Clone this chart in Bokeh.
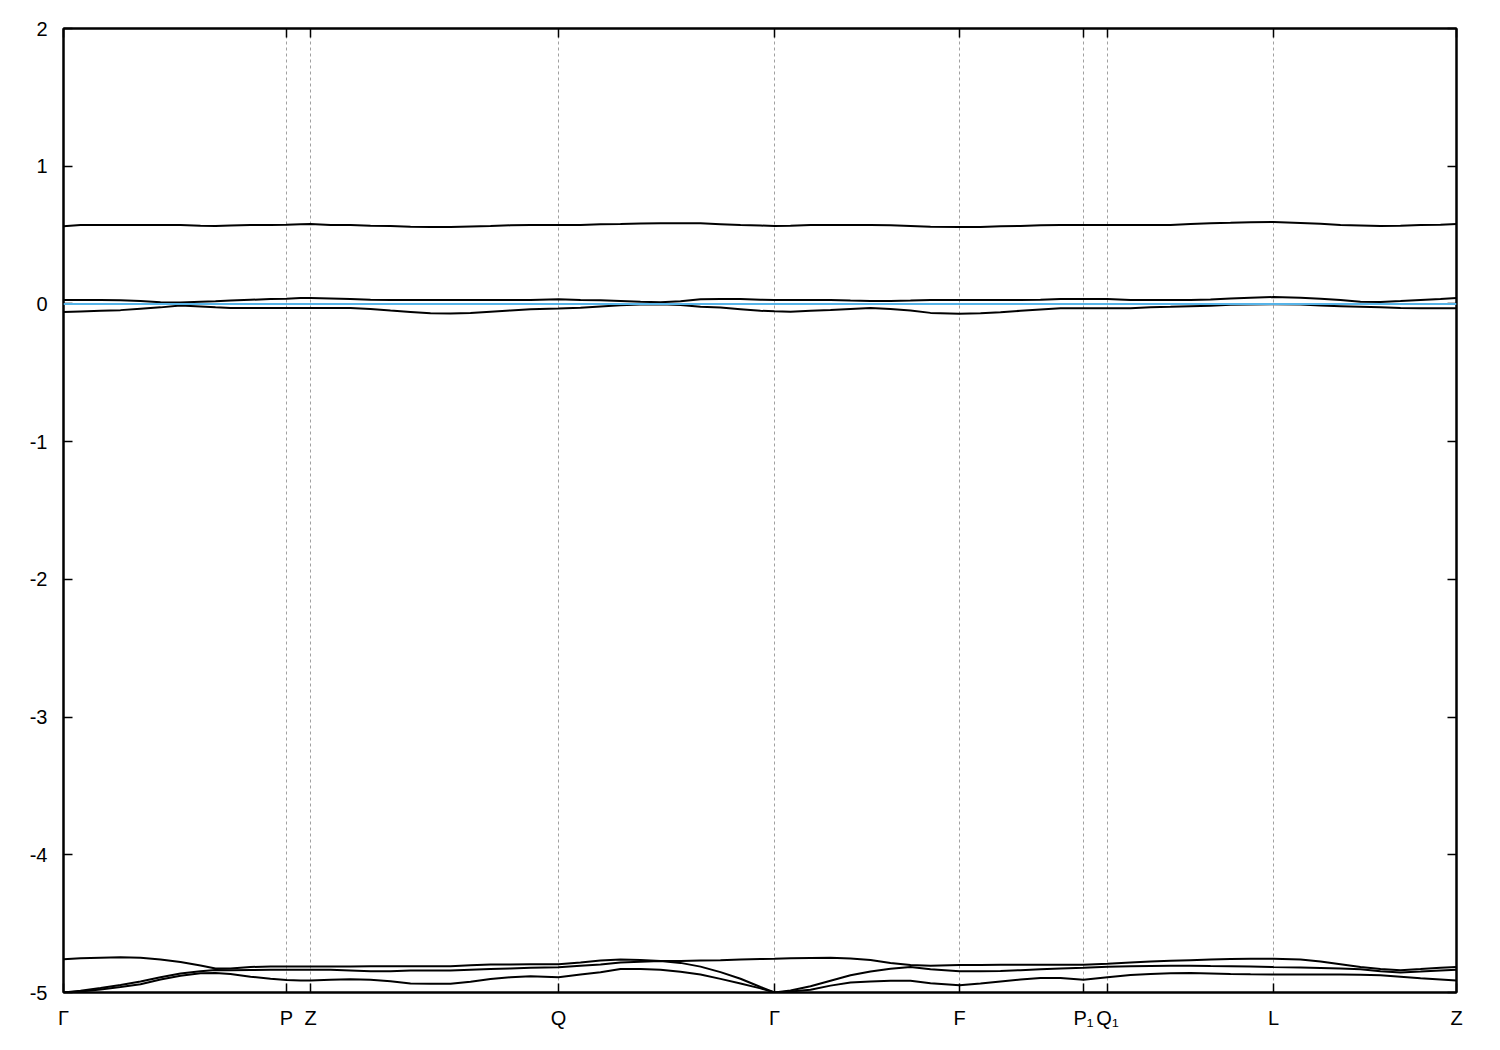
from bokeh.plotting import figure
from bokeh.models import Range1d, FixedTicker, LinearAxis, Span
from bokeh.embed import file_html
from bokeh.resources import INLINE

# ---- data ----
k_dist = [0.000, 0.017, 0.037, 0.057, 0.077, 0.097, 0.117, 0.137, 0.152, 0.167,
          0.187, 0.207, 0.223, 0.237, 0.247, 0.267, 0.287, 0.307, 0.327, 0.347,
          0.367, 0.387, 0.407, 0.427, 0.447, 0.467, 0.495, 0.517, 0.537, 0.557,
          0.577, 0.597, 0.617, 0.637, 0.657, 0.677, 0.697, 0.711, 0.727, 0.747,
          0.767, 0.787, 0.807, 0.827, 0.847, 0.867, 0.896, 0.917, 0.937, 0.957,
          0.977, 0.997, 1.020, 1.044, 1.067, 1.087, 1.107, 1.127, 1.147, 1.167,
          1.187, 1.210, 1.237, 1.257, 1.277, 1.297, 1.317, 1.337, 1.357, 1.377,
          1.393]

band_1 = [-5.000, -4.993, -4.978, -4.960, -4.940, -4.905, -4.878, -4.860, -4.858, -4.866,
          -4.885, -4.900, -4.910, -4.913, -4.913, -4.908, -4.903, -4.908, -4.918, -4.935,
          -4.937, -4.937, -4.922, -4.902, -4.889, -4.882, -4.889, -4.870, -4.853, -4.830,
          -4.830, -4.835, -4.850, -4.870, -4.901, -4.935, -4.970, -5.000, -4.993, -4.980,
          -4.950, -4.928, -4.920, -4.915, -4.915, -4.932, -4.948, -4.935, -4.920, -4.905,
          -4.895, -4.895, -4.908, -4.890, -4.873, -4.866, -4.860, -4.858, -4.862, -4.866,
          -4.868, -4.869, -4.869, -4.869, -4.870, -4.871, -4.875, -4.885, -4.896, -4.905,
          -4.913]

band_2 = [-5.000, -4.988, -4.968, -4.945, -4.920, -4.890, -4.862, -4.845, -4.836, -4.838,
          -4.836, -4.835, -4.835, -4.835, -4.835, -4.835, -4.840, -4.846, -4.846, -4.841,
          -4.840, -4.840, -4.834, -4.830, -4.826, -4.820, -4.816, -4.806, -4.797, -4.782,
          -4.776, -4.772, -4.785, -4.812, -4.852, -4.900, -4.960, -5.000, -4.985, -4.955,
          -4.915, -4.875, -4.847, -4.828, -4.815, -4.832, -4.845, -4.845, -4.843, -4.838,
          -4.832, -4.826, -4.820, -4.813, -4.810, -4.808, -4.806, -4.805, -4.808, -4.810,
          -4.812, -4.815, -4.818, -4.822, -4.826, -4.832, -4.845, -4.855, -4.848, -4.840,
          -4.835]

band_3 = [-4.758, -4.752, -4.748, -4.744, -4.748, -4.760, -4.778, -4.804, -4.826, -4.826,
          -4.815, -4.811, -4.811, -4.811, -4.811, -4.811, -4.811, -4.810, -4.809, -4.809,
          -4.809, -4.809, -4.803, -4.797, -4.796, -4.795, -4.795, -4.782, -4.768, -4.760,
          -4.764, -4.771, -4.771, -4.768, -4.765, -4.760, -4.757, -4.755, -4.752, -4.750,
          -4.748, -4.754, -4.764, -4.785, -4.800, -4.805, -4.801, -4.800, -4.799, -4.799,
          -4.799, -4.799, -4.798, -4.792, -4.782, -4.775, -4.770, -4.765, -4.760, -4.756,
          -4.755, -4.755, -4.760, -4.775, -4.795, -4.815, -4.830, -4.838, -4.830, -4.820,
          -4.815]

band_4 = [-0.059, -0.055, -0.050, -0.045, -0.035, -0.025, -0.012, -0.018, -0.025, -0.030,
          -0.030, -0.030, -0.030, -0.030, -0.030, -0.030, -0.030, -0.036, -0.048, -0.058,
          -0.068, -0.069, -0.066, -0.056, -0.047, -0.038, -0.033, -0.028, -0.018, -0.010,
          -0.004, -0.002, -0.008, -0.020, -0.026, -0.038, -0.050, -0.054, -0.056, -0.050,
          -0.044, -0.036, -0.030, -0.036, -0.048, -0.065, -0.071, -0.068, -0.060, -0.050,
          -0.040, -0.032, -0.032, -0.032, -0.032, -0.024, -0.021, -0.016, -0.013, -0.006,
          -0.004, -0.003, -0.005, -0.012, -0.016, -0.020, -0.024, -0.030, -0.032, -0.032,
          -0.032]

band_5 = [0.028, 0.028, 0.028, 0.026, 0.021, 0.013, 0.010, 0.016, 0.019, 0.024,
          0.030, 0.035, 0.038, 0.043, 0.043, 0.040, 0.036, 0.030, 0.028, 0.028,
          0.028, 0.028, 0.028, 0.028, 0.028, 0.028, 0.034, 0.029, 0.026, 0.021,
          0.015, 0.013, 0.020, 0.034, 0.036, 0.036, 0.030, 0.028, 0.028, 0.028,
          0.028, 0.024, 0.021, 0.021, 0.024, 0.028, 0.028, 0.028, 0.028, 0.028,
          0.030, 0.036, 0.036, 0.036, 0.029, 0.028, 0.028, 0.028, 0.032, 0.040,
          0.045, 0.050, 0.045, 0.038, 0.028, 0.016, 0.014, 0.021, 0.029, 0.036,
          0.043]

band_6 = [0.564, 0.573, 0.573, 0.573, 0.573, 0.573, 0.573, 0.568, 0.566, 0.570,
          0.573, 0.573, 0.575, 0.579, 0.580, 0.574, 0.573, 0.568, 0.566, 0.560,
          0.558, 0.558, 0.563, 0.566, 0.571, 0.573, 0.573, 0.574, 0.578, 0.580,
          0.584, 0.585, 0.585, 0.585, 0.579, 0.573, 0.569, 0.566, 0.568, 0.573,
          0.573, 0.573, 0.573, 0.571, 0.566, 0.560, 0.558, 0.558, 0.564, 0.566,
          0.572, 0.573, 0.573, 0.573, 0.573, 0.573, 0.574, 0.580, 0.585, 0.589,
          0.594, 0.595, 0.588, 0.582, 0.574, 0.570, 0.566, 0.568, 0.573, 0.575,
          0.580]

fermi_level = 0.0

kpoint_pos = [0.000, 0.223, 0.247, 0.495, 0.711, 0.896, 1.020, 1.044, 1.210, 1.393]
kpoint_labels = ["Γ", "P", "Z", "Q", "Γ", "F", "P₁", "Q₁", "L", "Z"]

y_ticks = [-5, -4, -3, -2, -1, 0, 1, 2]
y_labels = ["-5", "-4", "-3", "-2", "-1", "0", "1", "2"]

FONT = "Liberation Sans"

p = figure(frame_width=1393, frame_height=964,
           x_range=Range1d(kpoint_pos[0], kpoint_pos[-1]),
           y_range=Range1d(-5, 2),
           output_backend="svg", toolbar_location=None,
           min_border_left=63, min_border_right=30,
           min_border_top=28, min_border_bottom=48,
           background_fill_color="white", border_fill_color="white")

p.outline_line_color = "black"
p.outline_line_width = 2

# vertical dashed lines at high-symmetry points
p.xgrid.ticker = FixedTicker(ticks=kpoint_pos[1:-1])
p.xgrid.grid_line_color = "#a0a0a0"
p.xgrid.grid_line_dash = "3 3"
p.xgrid.grid_line_width = 1
p.ygrid.visible = False

for band in [band_1, band_2, band_3, band_4, band_5, band_6]:
    p.line(k_dist, band, line_color="black", line_width=2)

p.add_layout(Span(location=fermi_level, dimension="width",
                  line_color="#56b4e9", line_width=2))

# axes
def style_axis(ax):
    ax.axis_line_color = "black"
    ax.axis_line_width = 2
    ax.major_tick_in = 9
    ax.major_tick_out = 0
    ax.major_tick_line_color = "black"
    ax.major_tick_line_width = 1.5
    ax.minor_tick_in = 0
    ax.minor_tick_out = 0
    ax.major_label_text_font = FONT
    ax.major_label_text_font_size = "20px"
    ax.major_label_text_color = "black"

xa = p.xaxis[0]
xa.ticker = FixedTicker(ticks=kpoint_pos)
xa.major_label_overrides = dict(zip(kpoint_pos, kpoint_labels))
style_axis(xa)
xa.major_label_standoff = 14

ya = p.yaxis[0]
ya.ticker = FixedTicker(ticks=y_ticks)
ya.major_label_overrides = dict(zip(y_ticks, y_labels))
style_axis(ya)
ya.major_label_standoff = 16

# mirrored tick marks (no labels) on the right and top borders
right = LinearAxis(ticker=FixedTicker(ticks=y_ticks))
style_axis(right)
right.major_label_overrides = {t: "" for t in y_ticks}
p.add_layout(right, "right")

top = LinearAxis(ticker=FixedTicker(ticks=kpoint_pos))
style_axis(top)
top.major_label_overrides = {t: "" for t in kpoint_pos}
p.add_layout(top, "above")

open("out.html", "w").write(file_html(p, INLINE))
